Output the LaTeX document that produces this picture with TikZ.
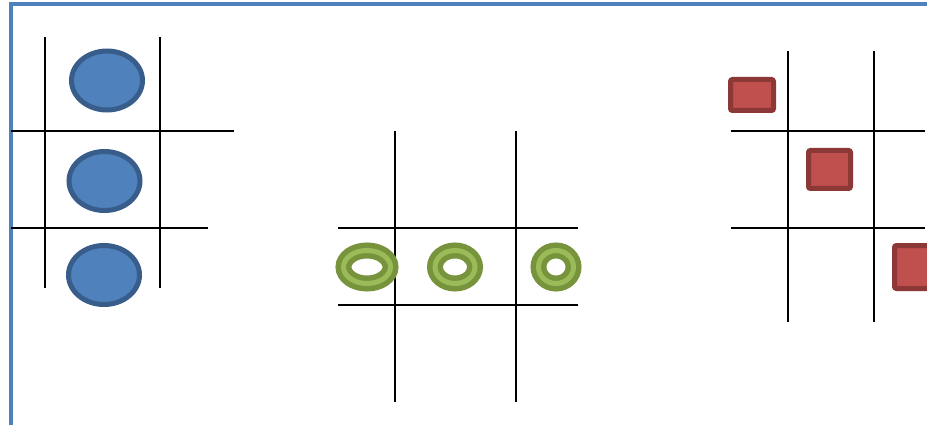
\documentclass[tikz,border=0pt]{standalone}
\usetikzlibrary{shapes.geometric}
\definecolor{frameblue}{HTML}{4F81BD}
\definecolor{blueedge}{HTML}{385D8A}
\definecolor{lightgreen}{HTML}{9BBB59}
\definecolor{darkgreen}{HTML}{77933C}
\definecolor{redfill}{HTML}{C0504D}
\definecolor{rededge}{HTML}{8C3836}
\tikzset{
  gridline/.style={line width=1.6pt, black},
  bluedot/.style={ellipse, draw=blueedge, fill=frameblue, line width=5pt, inner sep=0pt, minimum width=71pt, minimum height=59pt},
  greenring/.style={ellipse, draw=darkgreen, double=lightgreen, line width=5.5pt, double distance=5pt, inner sep=0pt, minimum height=33pt},
  redbox/.style={rectangle, draw=rededge, fill=redfill, line width=5pt, rounded corners=2pt, inner sep=0pt}
}
\begin{document}
\begin{tikzpicture}[x=1pt, y=-1pt]
\useasboundingbox (0,0) rectangle (927,425);
\draw[frameblue, line width=4.5pt] (11,432) -- (11,4) -- (935,4);
% left board
\draw[gridline] (45,37) -- (45,288);
\draw[gridline] (160,37) -- (160,288);
\draw[gridline] (11,131) -- (234,131);
\draw[gridline] (11,228) -- (208,228);
\node[bluedot] (c1) at (107,80.5) {};
\node[bluedot] (c2) at (104.5,181) {};
\node[bluedot] (c3) at (104,275) {};
% middle board
\draw[gridline] (395,131) -- (395,402);
\draw[gridline] (516,131) -- (516,402);
\draw[gridline] (338,228) -- (578,228);
\draw[gridline] (338,305) -- (578,305);
\node[greenring, minimum width=47pt] (o1) at (367,267) {};
\node[greenring, minimum width=40pt] (o2) at (455,267) {};
\node[greenring, minimum width=35pt] (o3) at (556,267) {};
% right board
\draw[gridline] (788,51) -- (788,322);
\draw[gridline] (874,51) -- (874,322);
\draw[gridline] (731,131) -- (925,131);
\draw[gridline] (731,228) -- (925,228);
\node[redbox, minimum width=43pt, minimum height=31pt] (s1) at (752,95) {};
\node[redbox, minimum width=42pt, minimum height=38pt] (s2) at (829.5,169.5) {};
\node[redbox, minimum width=35pt, minimum height=43pt] (s3) at (912,267) {};
\end{tikzpicture}
\end{document}
